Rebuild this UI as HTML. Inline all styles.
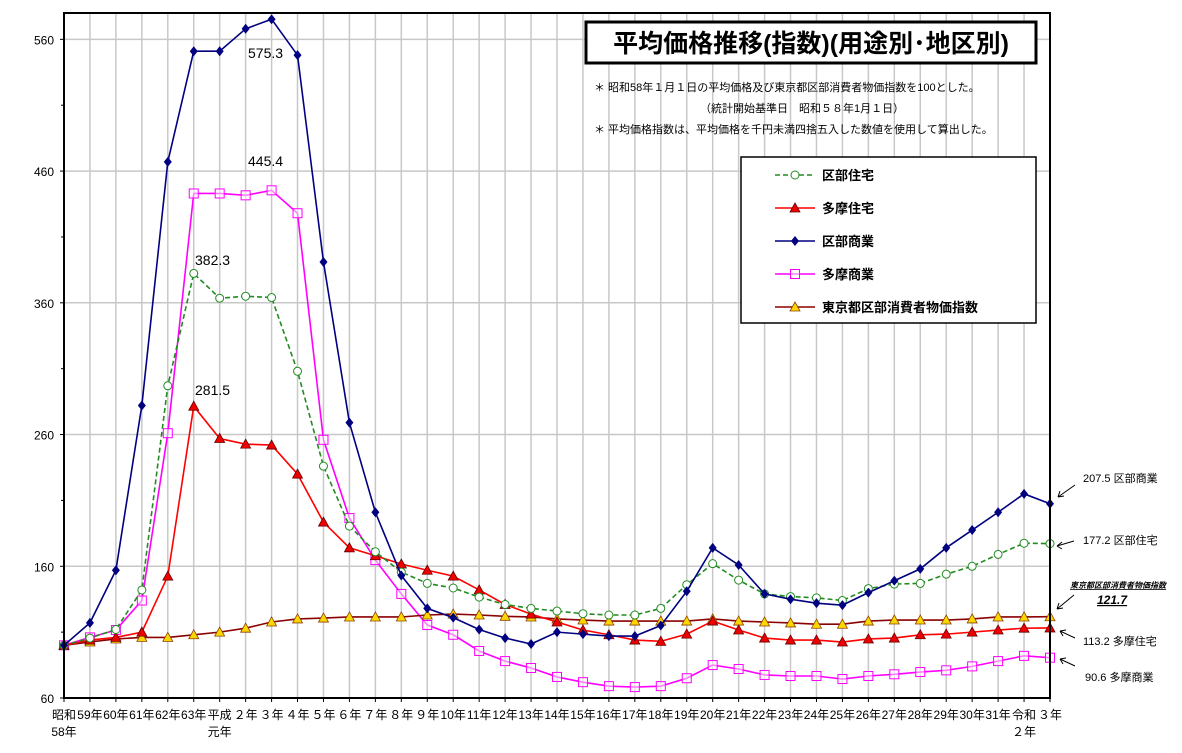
<!DOCTYPE html>
<html><head><meta charset="utf-8">
<style>
body{margin:0;background:#fff;}
svg text{font-family:"Liberation Sans","Noto Sans CJK JP",sans-serif;}
</style></head>
<body>
<svg id="chart" width="1182" height="748" xmlns="http://www.w3.org/2000/svg">
<g id="grid"></g>
<g id="series"></g>
<g id="axes"></g>
<g>
<rect x="586" y="22" width="450" height="41" fill="#fff" stroke="#000" stroke-width="3"/>
<text x="811" y="52" font-size="25" font-weight="bold" text-anchor="middle">平均価格推移(指数)(用途別･地区別)</text>
</g>
<g font-size="11" fill="#000">
<text x="594" y="91">＊ 昭和58年１月１日の平均価格及び東京都区部消費者物価指数を100とした。</text>
<text x="700" y="112">（統計開始基準日　昭和５８年1月１日）</text>
<text x="594" y="133">＊ 平均価格指数は、平均価格を千円未満四捨五入した数値を使用して算出した。</text>
</g>
<g id="legend">
<rect x="741" y="157" width="295" height="166" fill="#fff" stroke="#000" stroke-width="1.5"/>
</g>
<g font-size="14" fill="#000">
<text x="248" y="58">575.3</text>
<text x="248" y="166">445.4</text>
<text x="195" y="265">382.3</text>
<text x="195" y="395">281.5</text>
</g>
<g font-size="11" fill="#000">
<text x="1083" y="482">207.5 区部商業</text>
<text x="1083" y="544">177.2 区部住宅</text>
<text x="1070" y="588" font-size="8" font-weight="bold" font-style="italic" text-decoration="underline">東京都区部消費者物価指数</text>
<text x="1097" y="604" font-size="12" font-weight="bold" font-style="italic" text-decoration="underline">121.7</text>
<text x="1083" y="645">113.2 多摩住宅</text>
<text x="1085" y="681">90.6 多摩商業</text>
<g stroke="#000" stroke-width="1" fill="none">
<path d="M1075 485 L1058 497 M1058 497 l2 -6 M1058 497 l6 -1"/>
<path d="M1074 541 L1057 546 M1057 546 l5 -4 M1057 546 l5 3"/>
<path d="M1074 595 L1057 609 M1057 609 l2 -6 M1057 609 l6 -1"/>
<path d="M1075 638 L1060 631 M1060 631 l6 -1 M1060 631 l3 5"/>
<path d="M1075 666 L1060 659 M1060 659 l6 -1 M1060 659 l3 5"/>
</g>
</g>
</svg>
<script>
const categories=["昭和|58年","59年","60年","61年","62年","63年","平成|元年","２年","３年","４年","５年","６年","７年","８年","９年","10年","11年","12年","13年","14年","15年","16年","17年","18年","19年","20年","21年","22年","23年","24年","25年","26年","27年","28年","29年","30年","31年","令和|２年","３年"];
const kubuJutaku=[100,105.5,112,142,297,382.3,363.5,365,364,308,236,190.5,171,155.6,147,143.5,136.6,131,128,126,124,123,123,128,146,162,149.5,139,137,136,134,143,146.5,147,154,160,169,177.5,177.2];
const tamaJutaku=[100,104,106,110,152.5,281.5,257,252.7,252,230,193.5,174,168,161.7,157,152.5,142,131,123.7,117.7,111.6,108,104,103,108.5,118.4,111.6,105.5,104,104,102.5,104.8,105.5,108,108.5,110,111.6,113,113.2];
const kubuShogyo=[100,117,157,282,467,551,551,568,575.3,548,391,269,201,153,128,121,112,105.5,101,110,108.5,107,107,115,141,174,161,139,135,132,130.5,140,149,158,174,187.5,201,215,207.5];
const tamaShogyo=[100,106,111.6,134,261,443,443,441.6,445.4,428,256,196.6,164.7,139,115.4,108,95.7,88,82.8,76,72,69,68.3,69,75,85,82,77.5,76.7,76.7,74.4,76.7,78,79.7,81,84,88,92,90.6];
const cpi=[100,102.5,104.8,106,106,108,110,113,117.7,120,120.7,121.5,121.5,121.5,123,123.7,123,122,121.5,120,119.2,118.4,118.4,118.4,118.4,120,118.4,117.7,117,116,116,118.4,119.2,119.2,119.2,120,121.5,121.5,121.7];
const yTicks=[60,160,260,360,460,560];
const seriesNames=["区部住宅","多摩住宅","区部商業","多摩商業","東京都区部消費者物価指数"];

const NS="http://www.w3.org/2000/svg";
const L=64,R=1050,T=13,B=698,YMIN=60,YMAX=580;
const xs=i=>L+(R-L)*i/(categories.length-1);
const ys=v=>B-(v-YMIN)*(B-T)/(YMAX-YMIN);
function mk(tag,attrs,parent){const e=document.createElementNS(NS,tag);for(const k in attrs)e.setAttribute(k,attrs[k]);parent.appendChild(e);return e;}
const grid=document.getElementById('grid'),axes=document.getElementById('axes'),ser=document.getElementById('series'),leg=document.getElementById('legend');

categories.forEach((c,i)=>{
  const x=xs(i);
  if(i>0&&i<categories.length-1){const g=mk('line',{x1:x,x2:x,y1:T,y2:B,stroke:'#c8c8c8','stroke-width':1.5},grid);
  
  }
  const parts=c.split('|');
  parts.forEach((p,k)=>{const t=mk('text',{x:x,y:719+k*17,'font-size':12,'text-anchor':'middle'},axes);t.textContent=p;
  
  });
});
yTicks.forEach(v=>{
  const y=ys(v);
  if(v>YMIN){const g=mk('line',{x1:L,x2:R,y1:y,y2:y,stroke:'#c8c8c8','stroke-width':1.5},grid);
  
  }
  const t=mk('text',{x:54,y:y+5,'font-size':12,'text-anchor':'end'},axes);t.textContent=v;
  
  
  mk('line',{x1:L-4,x2:L,y1:y,y2:y,stroke:'#000'},axes);
  if(v+50<YMAX){const y2=ys(v+50);mk('line',{x1:L-3,x2:L,y1:y2,y2:y2,stroke:'#000'},axes);}
});
const frame=mk('rect',{x:L,y:T,width:R-L,height:B-T,fill:'none',stroke:'#000','stroke-width':2},axes);


categories.forEach((c,i)=>mk('line',{x1:xs(i),x2:xs(i),y1:B,y2:B+4,stroke:'#000'},axes));

function marker(type,x,y,par){
  if(type==='circle')return mk('circle',{cx:x,cy:y,r:4,fill:'#fff',stroke:'#228b22','stroke-width':1},par);
  if(type==='tri')return mk('path',{d:`M${x} ${y-5}L${x+5} ${y+4}L${x-5} ${y+4}Z`,fill:'#e00',stroke:'#600','stroke-width':0.8},par);
  if(type==='tri2')return mk('path',{d:`M${x} ${y-5}L${x+5} ${y+4}L${x-5} ${y+4}Z`,fill:'#ffd700',stroke:'#8b4000','stroke-width':0.8},par);
  if(type==='dia')return mk('path',{d:`M${x} ${y-5}L${x+4} ${y}L${x} ${y+5}L${x-4} ${y}Z`,fill:'#000080'},par);
  if(type==='sq')return mk('rect',{x:x-4.5,y:y-4.5,width:9,height:9,fill:'#fff','fill-opacity':0.5,stroke:'#ff00ff','stroke-width':1},par);
}
const defs=[
 {d:tamaShogyo,c:'#ff00ff',m:'sq',dash:null,name:'tama-commercial'},
 {d:cpi,c:'#8b0000',m:'tri2',dash:null,name:'cpi'},
 {d:tamaJutaku,c:'#ff0000',m:'tri',dash:null,name:'tama-residential'},
 {d:kubuJutaku,c:'#228b22',m:'circle',dash:'5,3',name:'ward-residential'},
 {d:kubuShogyo,c:'#000080',m:'dia',dash:null,name:'ward-commercial'}
];
defs.forEach(s=>{
  const g=mk('g',{},ser);
  
  
  const pts=s.d.map((v,i)=>xs(i)+','+ys(v)).join(' ');
  const pl=mk('polyline',{points:pts,fill:'none',stroke:s.c,'stroke-width':1.6},g);
  if(s.dash)pl.setAttribute('stroke-dasharray',s.dash);
  
  
  s.d.forEach((v,i)=>{const m=marker(s.m,xs(i),ys(v),g);
  
  });
});
const legDefs=[[kubuJutaku,'#228b22','circle','5,3'],[tamaJutaku,'#ff0000','tri',null],[kubuShogyo,'#000080','dia',null],[tamaShogyo,'#ff00ff','sq',null],[cpi,'#8b0000','tri2',null]];
legDefs.forEach((d,k)=>{
  const y=175+k*33;
  const g=mk('g',{},leg);
  
  
  const l=mk('line',{x1:775,x2:815,y1:y,y2:y,stroke:d[1],'stroke-width':1.6},g);
  if(d[3])l.setAttribute('stroke-dasharray',d[3]);
  marker(d[2],795,y,g);
  const t=mk('text',{x:822,y:y+5,'font-size':13,'font-weight':'bold'},g);t.textContent=seriesNames[k];
});
</script>
</body></html>
